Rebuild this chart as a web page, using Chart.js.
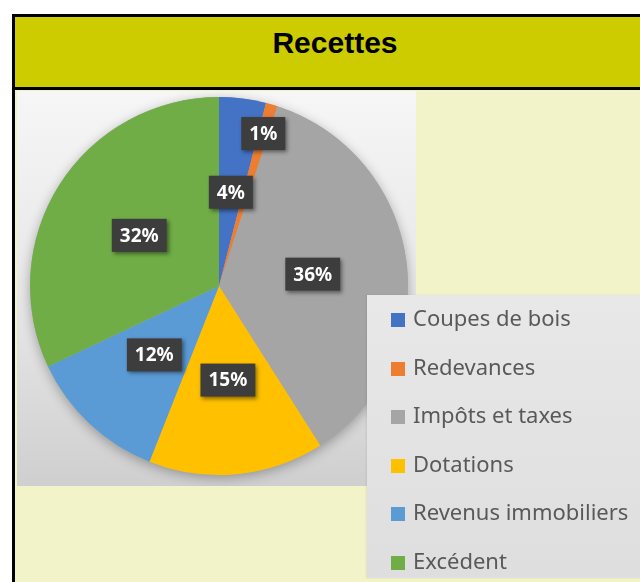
<!DOCTYPE html>
<html lang="fr">
<head>
<meta charset="utf-8">
<title>Recettes</title>
<script src="https://cdn.jsdelivr.net/npm/chart.js@4.4.1/dist/chart.umd.min.js"></script>
<style>
  html, body { margin: 0; padding: 0; background: #fff; width: 640px; height: 582px; overflow: hidden; }
  #frame { position: absolute; left: 12px; top: 14px; width: 700px; height: 600px;
           border-left: 3px solid #000; border-top: 3px solid #000; background: #f3f3c9; }
  #title { position: absolute; left: 0; top: 0; width: 640px; height: 70px; background: #cccc00;
           border-bottom: 3px solid #000; font: bold 30px "Liberation Sans", Arial, sans-serif;
           color: #000; text-align: center; line-height: 52px; }
  #pieBox { position: absolute; left: 17px; top: 91px; width: 399px; height: 395px;
            background: linear-gradient(180deg, #f6f6f6 0%, #e6e6e6 55%, #cfcfcf 100%); }
  #legend { position: absolute; left: 367px; top: 295px; width: 290px; height: 283px;
            background: linear-gradient(180deg, #e8e8e8 0%, #dedede 100%);
            box-shadow: -1px 0 2px rgba(0,0,0,0.08); }
  .item { position: absolute; left: 24px; height: 30px; font: 22px "Noto Sans", sans-serif; color: #595959;
          line-height: 30px; white-space: nowrap; }
  .item i { display: inline-block; width: 14px; height: 14px; margin-right: 8px; vertical-align: -1px; }
</style>
</head>
<body>
<div id="frame"><div id="title">Recettes</div></div>
<div id="pieBox"><canvas id="pie" width="399" height="395"></canvas></div>
<div id="legend"></div>
<script>
// Données (en % des recettes)
const categories = ['Coupes de bois', 'Redevances', 'Impôts et taxes', 'Dotations', 'Revenus immobiliers', 'Excédent'];
const values = [4, 1, 36, 15, 12, 32];
const colors = ['#4472c4', '#ed7d31', '#a5a5a5', '#ffc000', '#5b9bd5', '#70ad47'];

// ombre douce sous le camembert
const pieShadow = {
  id: 'pieShadow',
  beforeDatasetsDraw(chart) {
    const arc = chart.getDatasetMeta(0).data[0];
    if (!arc) return;
    const ctx = chart.ctx;
    ctx.save();
    ctx.shadowColor = 'rgba(0,0,0,0.3)';
    ctx.shadowBlur = 12;
    ctx.shadowOffsetY = 3;
    ctx.fillStyle = '#aaa';
    ctx.beginPath();
    ctx.arc(arc.x, arc.y, arc.outerRadius, 0, Math.PI * 2);
    ctx.fill();
    ctx.restore();
  }
};

// étiquettes % dans des cadres sombres
const pctLabels = {
  id: 'pctLabels',
  afterDatasetsDraw(chart) {
    const ctx = chart.ctx;
    const data = chart.data.datasets[0].data;
    const total = data.reduce((a, b) => a + b, 0);
    ctx.save();
    ctx.font = 'bold 19px "Noto Sans", sans-serif';
    ctx.textAlign = 'center';
    ctx.textBaseline = 'middle';
    chart.getDatasetMeta(0).data.forEach((arc, i) => {
      const share = data[i] / total;
      const mid = (arc.startAngle + arc.endAngle) / 2;
      const rr = arc.outerRadius * (share < 0.02 ? 0.84 : 0.5); // petite part → vers le bord
      const x = arc.x + Math.cos(mid) * rr;
      const y = arc.y + Math.sin(mid) * rr;
      const txt = Math.round(share * 100) + '%';
      const w = ctx.measureText(txt).width + 16, h = 33;
      ctx.shadowColor = 'rgba(0,0,0,0.45)';
      ctx.shadowBlur = 4;
      ctx.shadowOffsetX = 2;
      ctx.shadowOffsetY = 2;
      ctx.fillStyle = '#3d3d3d';
      ctx.fillRect(x - w / 2, y - h / 2, w, h);
      ctx.shadowColor = 'transparent';
      ctx.fillStyle = '#fff';
      ctx.fillText(txt, x, y + 1);
    });
    ctx.restore();
  }
};

new Chart(document.getElementById('pie'), {
  type: 'pie',
  data: {
    labels: categories,
    datasets: [{ data: values, backgroundColor: colors, borderWidth: 0 }]
  },
  options: {
    responsive: false,
    animation: false,
    layout: { padding: { left: 13, right: 8, top: 6, bottom: 11 } },
    plugins: { legend: { display: false }, tooltip: { enabled: false } }
  },
  plugins: [pieShadow, pctLabels]
});

// légende HTML
const legend = document.getElementById('legend');
categories.forEach((c, i) => {
  const d = document.createElement('div');
  d.className = 'item';
  d.style.top = (7 + i * 48.6) + 'px';
  d.innerHTML = `<i style="background:${colors[i]}"></i>${c}`;
  legend.appendChild(d);
});
</script>
</body>
</html>
